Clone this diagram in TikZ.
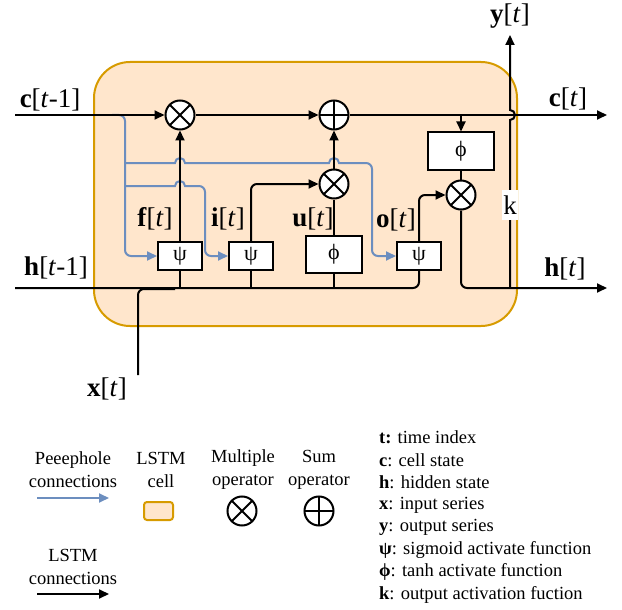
\documentclass[tikz,border=0pt]{standalone}
\usepackage{fontspec}
\setmainfont{Liberation Serif}
\usetikzlibrary{arrows.meta}
\definecolor{cellfill}{HTML}{FFE6CC}
\definecolor{celledge}{HTML}{D79B00}
\definecolor{peepblue}{HTML}{6C8EBF}

\begin{document}
\begin{tikzpicture}[
  x=1pt, y=-1pt, >={Triangle[length=10pt,width=9pt]},
  conn/.style={line width=2pt, black},
  peep/.style={line width=2pt, peepblue},
  gate/.style={draw, line width=2pt, fill=white, minimum width=44pt,
               minimum height=28pt, inner sep=0pt, font=\fontsize{22}{22}\selectfont},
  tanhbox/.style={gate, minimum width=56pt, minimum height=37pt},
  mulop/.style={circle, draw, line width=2pt, fill=white, minimum size=29pt, inner sep=0pt,
                path picture={\draw[line width=2pt]
                  (path picture bounding box.north west) -- (path picture bounding box.south east)
                  (path picture bounding box.north east) -- (path picture bounding box.south west);}},
  addop/.style={circle, draw, line width=2pt, fill=white, minimum size=29pt, inner sep=0pt,
                path picture={\draw[line width=2pt]
                  (path picture bounding box.north) -- (path picture bounding box.south)
                  (path picture bounding box.west) -- (path picture bounding box.east);}},
  lab/.style={font=\fontsize{27}{27}\selectfont, inner sep=0pt},
  leg/.style={font=\fontsize{18.5}{23}\selectfont, align=center, inner sep=0pt},
  key/.style={font=\fontsize{18.5}{18.5}\selectfont, anchor=west, inner sep=0pt}
]
\useasboundingbox (0,0) rectangle (622,610);

% cell
\draw[celledge, fill=cellfill, line width=2pt, rounded corners=36pt] (94,62) rectangle (517,326);

% operators and gates
\node[mulop] (mf) at (180,115) {};
\node[addop] (sum) at (334,115) {};
\node[mulop] (mi) at (334,184) {};
\node[mulop] (mo) at (461,195) {};
\node[gate] (f) at (180,256) {ψ};
\node[gate] (i) at (251,256) {ψ};
\node[tanhbox] (u) at (334,254.5) {ϕ};
\node[gate] (o) at (419,256) {ψ};
\node[tanhbox, minimum width=66pt] (phic) at (461,151) {ϕ};

% peephole connections
\draw[peep, ->, rounded corners=6pt] (112,115) -| (125,256) -- (f.west);
\draw[peep, ->] (125,163) -- (175,163) arc[start angle=180, end angle=360, radius=5]
  -- (329,163) arc[start angle=180, end angle=360, radius=5]
  [rounded corners=6pt] -- (372,163) -- (372,256) -- (o.west);
\draw[peep, ->] (125,186) -- (175,186) arc[start angle=180, end angle=360, radius=5]
  [rounded corners=6pt] -- (205,186) -- (205,256) -- (i.west);

% cell state
\draw[conn, ->] (15,115) -- (mf.west);
\draw[conn, ->] (mf.east) -- (sum.west);
\draw[conn, ->] (sum.east) -- (607,115);
\draw[conn, ->] (461,115) -- (phic.north);

% gates
\draw[conn, ->] (f.north) -- (mf.south);
\draw[conn, ->, rounded corners=6pt] (i.north) |- (mi.west);
\draw[conn] (u.north) -- (mi.south);
\draw[conn, ->] (mi.north) -- (sum.south);
\draw[conn, ->, rounded corners=6pt] (o.north) |- (mo.west);
\draw[conn] (phic.south) -- (mo.north);

% hidden state and input
\draw[conn, rounded corners=6pt] (15,288) -| (o.south);
\draw[conn, rounded corners=6pt] (138,375) |- (175,289);
\draw[conn] (f.south) -- (180,288);
\draw[conn] (i.south) -- (251,288);
\draw[conn] (u.south) -- (334,288);
\draw[conn, ->, rounded corners=6pt] (mo.south) |- (607,288);
\draw[conn, ->] (510,288) -- (510,120) arc[start angle=90, end angle=-90, radius=5] -- (510,35);
\node[lab, fill=white, inner xsep=1pt, inner ysep=6pt] (k) at (510,205) {k};

% labels
\node[lab] (cprev) at (50,100) {\textbf{c}[\textit{t}-1]};
\node[lab] (hprev) at (56,268) {\textbf{h}[\textit{t}-1]};
\node[lab] (cnext) at (568,99) {\textbf{c}[\textit{t}]};
\node[lab] (hnext) at (565,269) {\textbf{h}[\textit{t}]};
\node[lab] (yout) at (510,16) {\textbf{y}[\textit{t}]};
\node[lab] (xin) at (107,389) {\textbf{x}[\textit{t}]};
\node[lab] (flab) at (155,219) {\textbf{f}[\textit{t}]};
\node[lab] (ilab) at (228,219) {\textbf{i}[\textit{t}]};
\node[lab] (ulab) at (313,219) {\textbf{u}[\textit{t}]};
\node[lab] (olab) at (396,220) {\textbf{o}[\textit{t}]};

% legend
\node[leg] (lpeep) at (73,470) {Peeephole\\connections};
\coordinate (lpa) at (37,498);
\coordinate (lpb) at (109,498);
\draw[peep, ->] (lpa) -- (lpb);
\node[leg] (lcell) at (161,470) {LSTM\\cell};
\draw[celledge, fill=cellfill, line width=2pt, rounded corners=3pt] (144,502) rectangle (173,520);
\node[leg] (lmul) at (243,470) {Multiple\\operator};
\node[mulop] (lmulop) at (242,511) {};
\node[leg] (lsum) at (319,470) {Sum\\operator};
\node[addop] (laddop) at (319,511) {};
\node[leg] (lconn) at (73,567) {LSTM\\connections};
\coordinate (lca) at (37,594);
\coordinate (lcb) at (109,594);
\draw[conn, ->] (lca) -- (lcb);

\node[key] (kt) at (379,437) {\textbf{t:} time index};
\node[key] (kc) at (379,460) {\textbf{c}: cell state};
\node[key] (kh) at (379,482) {\textbf{h}: hidden state};
\node[key] (kx) at (379,505) {\textbf{x}: input series};
\node[key] (ky) at (379,527) {\textbf{y}: output series};
\node[key] (kpsi) at (379,550) {\textbf{ψ}: sigmoid activate function};
\node[key] (kphi) at (379,572) {\textbf{ϕ}: tanh activate function};
\node[key] (kk) at (379,595) {\textbf{k}: output activation fuction};
\end{tikzpicture}
\end{document}
